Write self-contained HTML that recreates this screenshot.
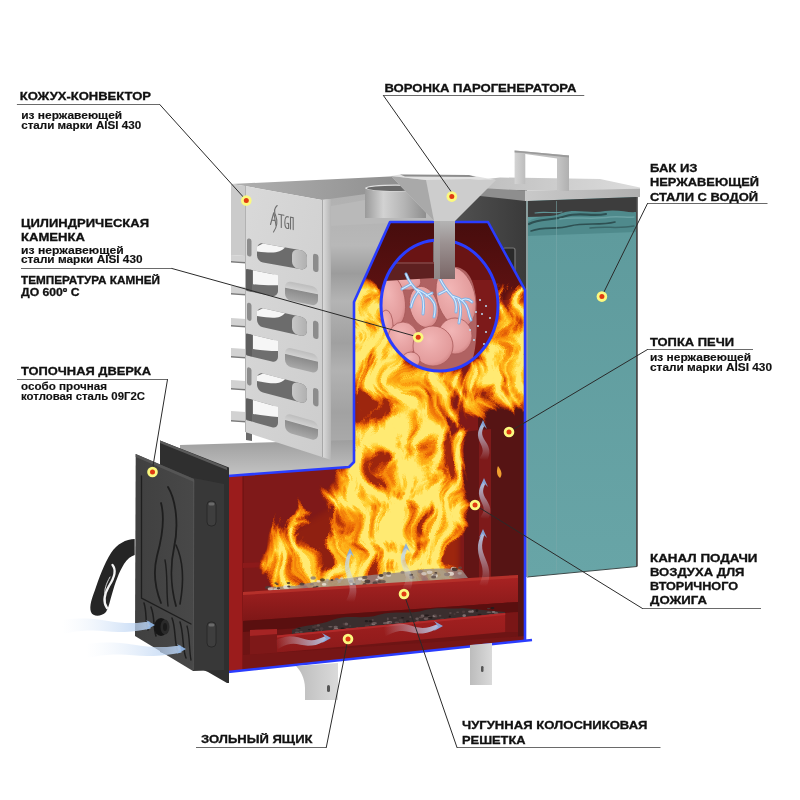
<!DOCTYPE html>
<html><head><meta charset="utf-8"><style>
html,body{margin:0;padding:0;background:#fff;}
body{position:relative;width:800px;height:800px;overflow:hidden;}
svg{display:block;position:absolute;left:0;top:0;}
#ov{will-change:transform;}
.t{font-family:"Liberation Sans",sans-serif;font-weight:bold;font-size:11px;fill:#111;stroke:#111;stroke-width:0.3px;}
.s{font-family:"Liberation Sans",sans-serif;font-weight:bold;font-size:11px;fill:#111;stroke:#111;stroke-width:0.15px;}
</style></head><body>
<svg width="800" height="800" viewBox="0 0 800 800">
<defs>
<linearGradient id="gTeal" x1="0" y1="0" x2="0" y2="1"><stop offset="0" stop-color="#5e9a9c"/><stop offset="1" stop-color="#68a5a7"/></linearGradient>
<linearGradient id="gBackTop" x1="0" y1="0" x2="1" y2="0"><stop offset="0" stop-color="#b0b0b0"/><stop offset="1" stop-color="#8f8f8f"/></linearGradient>
<linearGradient id="gBodySide" x1="0" y1="0" x2="0" y2="1"><stop offset="0" stop-color="#b0b0b0"/><stop offset="0.2" stop-color="#b8b8b8"/><stop offset="0.3" stop-color="#9c9c9c"/><stop offset="0.4" stop-color="#b4b4b4"/><stop offset="0.55" stop-color="#a0a0a0"/><stop offset="0.65" stop-color="#b2b2b2"/><stop offset="0.8" stop-color="#a2a2a2"/><stop offset="1" stop-color="#b0b0b0"/></linearGradient>
<linearGradient id="gDark" x1="0" y1="0" x2="1" y2="0"><stop offset="0" stop-color="#555"/><stop offset="1" stop-color="#3a3a3a"/></linearGradient>
<linearGradient id="gPlate" x1="0" y1="0" x2="0" y2="1"><stop offset="0" stop-color="#9e9e9e"/><stop offset="1" stop-color="#c4c4c4"/></linearGradient>
<linearGradient id="gLid" x1="0" y1="0" x2="1" y2="0"><stop offset="0" stop-color="#bdbdbd"/><stop offset="1" stop-color="#dcdcdc"/></linearGradient>
<linearGradient id="gLidFront" x1="0" y1="0" x2="1" y2="0"><stop offset="0" stop-color="#c9c9c9"/><stop offset="1" stop-color="#b0b0b0"/></linearGradient>
<linearGradient id="gHandle" x1="0" y1="0" x2="1" y2="0"><stop offset="0" stop-color="#d4d4d4"/><stop offset="0.2" stop-color="#bcbcbc"/><stop offset="0.8" stop-color="#c4c4c4"/><stop offset="1" stop-color="#b0b0b0"/></linearGradient>
<linearGradient id="gConvFront" x1="0" y1="0" x2="1" y2="1"><stop offset="0" stop-color="#d9d9d9"/><stop offset="1" stop-color="#cdcdcd"/></linearGradient>
<linearGradient id="gEdge" x1="0" y1="0" x2="1" y2="0"><stop offset="0" stop-color="#dedede"/><stop offset="1" stop-color="#b5b5b5"/></linearGradient>
<linearGradient id="gHole" x1="0" y1="0" x2="1" y2="0"><stop offset="0" stop-color="#f4f4f4"/><stop offset="0.45" stop-color="#e0e0e0"/><stop offset="0.5" stop-color="#6a6a6a"/><stop offset="1" stop-color="#8a8a8a"/></linearGradient>
<linearGradient id="gHoleR" x1="0" y1="0" x2="1" y2="0"><stop offset="0" stop-color="#c8c8c8"/><stop offset="1" stop-color="#b0b0b0"/></linearGradient>
<linearGradient id="gHole2" x1="0" y1="0" x2="0" y2="1"><stop offset="0" stop-color="#bdbdbd"/><stop offset="0.35" stop-color="#d0d0d0"/><stop offset="0.4" stop-color="#8c8c8c"/><stop offset="1" stop-color="#a8a8a8"/></linearGradient>
<linearGradient id="gCyl" x1="0" y1="0" x2="1" y2="0"><stop offset="0" stop-color="#9a9a9a"/><stop offset="0.3" stop-color="#d2d2d2"/><stop offset="0.65" stop-color="#b4b4b4"/><stop offset="1" stop-color="#8e8e8e"/></linearGradient>
<linearGradient id="gHead" x1="0" y1="0" x2="0" y2="1"><stop offset="0" stop-color="#470d0d"/><stop offset="1" stop-color="#601212"/></linearGradient>
<linearGradient id="gFunnel" x1="0" y1="0" x2="1" y2="0"><stop offset="0" stop-color="#c2c2c2"/><stop offset="0.5" stop-color="#d0d0d0"/><stop offset="1" stop-color="#b8b8b8"/></linearGradient>
<linearGradient id="gStem" x1="0" y1="0" x2="0" y2="1"><stop offset="0" stop-color="#b4b4b4"/><stop offset="0.4" stop-color="#9a9090"/><stop offset="1" stop-color="#7a6666"/></linearGradient>
<linearGradient id="gDoor" x1="0" y1="0" x2="1" y2="0"><stop offset="0" stop-color="#404040"/><stop offset="1" stop-color="#484848"/></linearGradient>
<linearGradient id="gTray" x1="0" y1="0" x2="0" y2="1"><stop offset="0" stop-color="#a82222"/><stop offset="1" stop-color="#7e1717"/></linearGradient>
<linearGradient id="gDrawer" x1="0" y1="0" x2="0" y2="1"><stop offset="0" stop-color="#a32020"/><stop offset="1" stop-color="#8c1a1a"/></linearGradient>
<linearGradient id="gLeg" x1="0" y1="0" x2="1" y2="0"><stop offset="0" stop-color="#bcbcbc"/><stop offset="1" stop-color="#dadada"/></linearGradient>
<radialGradient id="gStone" cx="0.4" cy="0.35" r="0.75"><stop offset="0" stop-color="#f2b6b6"/><stop offset="0.75" stop-color="#e39c9c"/><stop offset="1" stop-color="#c97a7a"/></radialGradient>
<linearGradient id="gStemIn" x1="0" y1="0" x2="1" y2="0"><stop offset="0" stop-color="#7a6a6a"/><stop offset="0.5" stop-color="#9a8a8a"/><stop offset="1" stop-color="#6a5656"/></linearGradient>
<radialGradient id="fireGlow" gradientUnits="userSpaceOnUse" cx="400" cy="480" r="150"><stop offset="0" stop-color="#ffcc40" stop-opacity="0.5"/><stop offset="1" stop-color="#ff8000" stop-opacity="0"/></radialGradient>
<clipPath id="redClip"><polygon points="228,476 349,467 354,462 354,302 390,222 488,222 525,290 525,641 228,672"/></clipPath>
<clipPath id="ellClip"><ellipse cx="439.5" cy="305.5" rx="58.5" ry="65.5"/></clipPath>
<filter id="fireTex" x="200" y="220" width="360" height="420" filterUnits="userSpaceOnUse" color-interpolation-filters="sRGB">
 <feTurbulence type="turbulence" baseFrequency="0.042 0.016" numOctaves="4" seed="8" result="t"/>
 <feTurbulence type="fractalNoise" baseFrequency="0.015 0.02" numOctaves="2" seed="3" result="d"/>
 <feDisplacementMap in="t" in2="d" scale="60" xChannelSelector="R" yChannelSelector="G" result="td"/>
 <feColorMatrix in="td" type="matrix" values="-1.75 0 0 0 1  -1.75 0 0 0 1  -1.75 0 0 0 1  0 0 0 0 1" result="tex"/>
 <feComposite in="SourceGraphic" in2="tex" operator="arithmetic" k1="0.5" k2="0.95" k3="0.8" k4="-0.8" result="c"/>
 <feColorMatrix in="c" type="matrix" values="1 0 0 0 0  1 0 0 0 0  1 0 0 0 0  1 0 0 0 0" result="c2"/>
 <feComponentTransfer in="c2">
  <feFuncR type="table" tableValues="0.5 0.78 0.93 0.99 1 1"/>
  <feFuncG type="table" tableValues="0.09 0.23 0.42 0.62 0.79 0.92"/>
  <feFuncB type="table" tableValues="0.03 0.02 0.03 0.06 0.16 0.45"/>
  <feFuncA type="table" tableValues="0 0.75 1 1 1 1"/>
 </feComponentTransfer>
</filter>
<filter id="mblur" x="200" y="220" width="360" height="420" filterUnits="userSpaceOnUse"><feGaussianBlur stdDeviation="6"/></filter>
<filter id="soft" x="0" y="0" width="800" height="800" filterUnits="userSpaceOnUse"><feGaussianBlur stdDeviation="1.5"/></filter>
<mask id="flameMask" maskUnits="userSpaceOnUse" x="200" y="220" width="360" height="420">
 <g filter="url(#mblur)" fill="#fff">
  <polygon points="358,300 366,284 380,290 392,340 420,372 462,372 490,340 500,290 510,284 523,292 523,408 500,410 470,418 466,440 466,590 330,595 340,470 354,466"/>
  <polygon points="262,596 262,560 272,525 292,505 315,490 345,475 360,480 360,596" fill="#ccc"/>
 </g>
 <polygon points="440,395 470,392 475,420 466,440 440,430" fill="#000" opacity="0.45" filter="url(#mblur)"/>
</mask>
<linearGradient id="ag1" gradientUnits="userSpaceOnUse" x1="350.0" y1="602.0" x2="350.0" y2="553.0"><stop offset="0" stop-color="#e4eefa" stop-opacity="0.0"/><stop offset="1" stop-color="#b4cff2" stop-opacity="0.9"/></linearGradient>
<linearGradient id="ag2" gradientUnits="userSpaceOnUse" x1="406.0" y1="590.0" x2="406.0" y2="548.0"><stop offset="0" stop-color="#e4eefa" stop-opacity="0.0"/><stop offset="1" stop-color="#b4cff2" stop-opacity="0.9"/></linearGradient>
<linearGradient id="ag3" gradientUnits="userSpaceOnUse" x1="483.0" y1="586.0" x2="483.0" y2="534.0"><stop offset="0" stop-color="#e4eefa" stop-opacity="0.0"/><stop offset="1" stop-color="#b4cff2" stop-opacity="0.9"/></linearGradient>
<linearGradient id="ag4" gradientUnits="userSpaceOnUse" x1="484.0" y1="519.0" x2="484.0" y2="483.0"><stop offset="0" stop-color="#e4eefa" stop-opacity="0.0"/><stop offset="1" stop-color="#b4cff2" stop-opacity="0.9"/></linearGradient>
<linearGradient id="ag5" gradientUnits="userSpaceOnUse" x1="483.0" y1="460.0" x2="483.0" y2="425.0"><stop offset="0" stop-color="#e4eefa" stop-opacity="0.0"/><stop offset="1" stop-color="#b4cff2" stop-opacity="0.9"/></linearGradient>
<linearGradient id="ag6" gradientUnits="userSpaceOnUse" x1="276.0" y1="645.0" x2="326.0" y2="638.0"><stop offset="0" stop-color="#e4eefa" stop-opacity="0.0"/><stop offset="1" stop-color="#b4cff2" stop-opacity="0.9"/></linearGradient>
<linearGradient id="ag7" gradientUnits="userSpaceOnUse" x1="384.0" y1="632.0" x2="438.0" y2="626.0"><stop offset="0" stop-color="#e4eefa" stop-opacity="0.0"/><stop offset="1" stop-color="#b4cff2" stop-opacity="0.9"/></linearGradient>
<linearGradient id="ag8" gradientUnits="userSpaceOnUse" x1="62.0" y1="627.0" x2="150.0" y2="625.0"><stop offset="0" stop-color="#e4eefa" stop-opacity="0.0"/><stop offset="1" stop-color="#b4cff2" stop-opacity="0.9"/></linearGradient>
<linearGradient id="ag9" gradientUnits="userSpaceOnUse" x1="86.0" y1="651.0" x2="181.0" y2="649.0"><stop offset="0" stop-color="#e4eefa" stop-opacity="0.0"/><stop offset="1" stop-color="#b4cff2" stop-opacity="0.9"/></linearGradient></defs>
<rect width="800" height="800" fill="#fff"/>
<polygon points="231.0,184.0 400.0,176.0 400.0,200.0 331.0,199.0 322.0,200.0 245.0,186.0" fill="url(#gBackTop)" />
<polygon points="322.0,200.0 395.0,190.0 400.0,224.0 390.0,222.0 354.0,302.0 354.0,466.0 331.0,468.0 322.0,459.0" fill="url(#gBodySide)" />
<polygon points="331.0,206.0 365.0,200.0 445.0,196.0 445.0,223.0 390.0,223.0 331.0,226.0" fill="#b9b9b9" />
<polygon points="440.0,186.0 527.0,190.0 527.0,300.0 440.0,300.0" fill="url(#gDark)" />
<rect x="503" y="248" width="12" height="30" fill="#2a2a2a" stroke="#777" stroke-width="1.2" rx="2"/>
<polygon points="180.0,445.0 353.0,440.0 353.0,464.0 348.0,467.0 228.0,476.0 180.0,476.0" fill="url(#gPlate)" />
<polygon points="470.0,181.0 500.0,177.5 600.0,179.0 640.0,187.5 640.0,189.0 525.0,190.6 470.0,189.0" fill="url(#gLid)" />
<polygon points="525.0,190.6 640.0,188.7 640.0,197.0 525.0,201.0" fill="url(#gLidFront)" />
<polygon points="480.0,188.0 525.0,190.6 525.0,201.0 480.0,196.0" fill="#8e8e8e" />
<path d="M514.6,184 L514.6,150.5 L569,155.5 L569,191 L557,191 L557,158.5 L525.3,154 L525.3,184 Z" fill="url(#gHandle)"/>
<path d="M514.6,150.5 L569,155.5 L569,157.5 L525.3,153 L514.6,152.5 Z" fill="#9a9a9a"/>
<polygon points="527.0,201.0 636.0,197.0 636.0,566.5 527.0,577.0" fill="url(#gTeal)" />
<line x1="527" y1="577" x2="637" y2="566.5" stroke="#3e4a4a" stroke-width="1"/>
<polygon points="527.0,201.0 636.0,197.0 636.0,214.0 527.0,217.0" fill="#3d3d3d" />
<path d="M527,222 C540,214 552,218 562,213 C575,208 590,214 605,211 C618,209 628,213 636,212 L636,232 L527,236 Z" fill="#4f8a8c"/>
<g fill="none" stroke-linecap="round"><path d="M529,224 C540,218 552,221 566,216 C580,212 592,217 606,214" stroke="#2e5052" stroke-width="2.2"/><path d="M531,231 C545,226 556,230 570,226 C585,222 600,226 615,222" stroke="#2e5052" stroke-width="1.6"/><path d="M560,219 C575,216 590,220 610,217 C620,216 628,218 634,217" stroke="#6aa2a4" stroke-width="1.5"/><path d="M590,228 C605,226 620,229 634,226" stroke="#3a6668" stroke-width="1.5"/><path d="M535,213 C545,211 555,214 562,212" stroke="#5e9496" stroke-width="1.2"/></g>
<polygon points="636.0,197.0 637.8,197.0 637.8,566.5 636.0,566.5" fill="#4a4a4a" />
<line x1="556.5" y1="201" x2="556.5" y2="572" stroke="#7aa8aa" stroke-width="0.8" opacity="0.7"/>
<polygon points="526.0,201.0 528.0,201.0 528.0,577.0 526.0,577.0" fill="#8a9e9e" />
<polygon points="231.0,184.0 245.0,186.0 245.0,256.0 231.0,255.0" fill="#cbcbcb" />
<polygon points="231.0,255.0 246.0,256.0 246.0,262.0 231.0,261.0" fill="#d2d2d2" />
<polygon points="231.0,261.0 246.0,262.0 246.0,263.5 231.0,262.5" fill="#7a7a7a" />
<polygon points="231.0,286.0 246.0,287.0 246.0,294.0 231.0,293.0" fill="#d2d2d2" />
<polygon points="231.0,293.0 246.0,294.0 246.0,295.5 231.0,294.5" fill="#7a7a7a" />
<polygon points="231.0,318.0 246.0,319.0 246.0,326.0 231.0,325.0" fill="#d2d2d2" />
<polygon points="231.0,325.0 246.0,326.0 246.0,327.5 231.0,326.5" fill="#7a7a7a" />
<polygon points="231.0,348.0 246.0,349.0 246.0,357.0 231.0,356.0" fill="#d2d2d2" />
<polygon points="231.0,356.0 246.0,357.0 246.0,358.5 231.0,357.5" fill="#7a7a7a" />
<polygon points="231.0,380.0 246.0,381.0 246.0,389.0 231.0,388.0" fill="#d2d2d2" />
<polygon points="231.0,388.0 246.0,389.0 246.0,390.5 231.0,389.5" fill="#7a7a7a" />
<polygon points="231.0,411.0 246.0,412.0 246.0,421.0 231.0,420.0" fill="#d2d2d2" />
<polygon points="231.0,420.0 246.0,421.0 246.0,422.5 231.0,421.5" fill="#7a7a7a" />
<polygon points="246.0,256.0 252.0,257.0 252.0,441.0 246.0,440.0" fill="#6a6a6a" />
<polygon points="245.0,186.0 322.0,200.0 322.0,457.0 245.0,432.0" fill="url(#gConvFront)" />
<line x1="245.5" y1="186" x2="245.5" y2="432" stroke="#a8a8a8" stroke-width="0.8"/>
<polygon points="322.0,200.0 331.0,199.0 331.0,460.0 322.0,457.0" fill="url(#gEdge)" />
<line x1="322.5" y1="200" x2="322.5" y2="457" stroke="#9a9a9a" stroke-width="0.8"/>
<g transform="matrix(1,0.180,0,1,0,-46.26)"><rect x="247.0" y="239.9" width="4.5" height="18.0" rx="2.2" fill="#8c8c8c" /><rect x="257.0" y="242.4" width="50.0" height="19.0" rx="6.0" fill="#6c6c6c" /><path d="M263,242.4 L285,242.4 C280,248.4 275,250.4 257,251.4 L257,246.4 Z" fill="#f6f6f6"/><rect x="292.0" y="242.4" width="15.0" height="19.0" rx="6.0" fill="url(#gHoleR)" /><rect x="313.0" y="243.4" width="5.5" height="18.0" rx="2.5" fill="#8c8c8c" /></g>
<g transform="matrix(1,0.200,0,1,0,-51.40)"><rect x="246.0" y="271.0" width="32.0" height="22.0" rx="6.0" fill="#6e6e6e" /><path d="M253,271.0 L278,271.0 L278,281.0 C270,283.0 262,284.0 253,285.0 Z" fill="#f6f6f6"/><rect x="246.0" y="271.0" width="6.0" height="22.0" rx="1.0" fill="#5e5e5e" /><rect x="285.0" y="275.0" width="33.0" height="19.0" rx="6.0" fill="url(#gHole2)" /></g>
<g transform="matrix(1,0.220,0,1,0,-56.54)"><rect x="247.0" y="304.5" width="4.5" height="18.0" rx="2.2" fill="#8c8c8c" /><rect x="257.0" y="307.0" width="50.0" height="19.0" rx="6.0" fill="#6c6c6c" /><path d="M263,307.0 L285,307.0 C280,313.0 275,315.0 257,316.0 L257,311.0 Z" fill="#f6f6f6"/><rect x="292.0" y="307.0" width="15.0" height="19.0" rx="6.0" fill="url(#gHoleR)" /><rect x="313.0" y="308.0" width="5.5" height="18.0" rx="2.5" fill="#8c8c8c" /></g>
<g transform="matrix(1,0.240,0,1,0,-61.68)"><rect x="246.0" y="336.0" width="32.0" height="22.0" rx="6.0" fill="#6e6e6e" /><path d="M253,336.0 L278,336.0 L278,346.0 C270,348.0 262,349.0 253,350.0 Z" fill="#f6f6f6"/><rect x="246.0" y="336.0" width="6.0" height="22.0" rx="1.0" fill="#5e5e5e" /><rect x="285.0" y="340.0" width="33.0" height="19.0" rx="6.0" fill="url(#gHole2)" /></g>
<g transform="matrix(1,0.260,0,1,0,-66.82)"><rect x="247.0" y="369.5" width="4.5" height="18.0" rx="2.2" fill="#8c8c8c" /><rect x="257.0" y="372.0" width="50.0" height="19.0" rx="6.0" fill="#6c6c6c" /><path d="M263,372.0 L285,372.0 C280,378.0 275,380.0 257,381.0 L257,376.0 Z" fill="#f6f6f6"/><rect x="292.0" y="372.0" width="15.0" height="19.0" rx="6.0" fill="url(#gHoleR)" /><rect x="313.0" y="373.0" width="5.5" height="18.0" rx="2.5" fill="#8c8c8c" /></g>
<g transform="matrix(1,0.280,0,1,0,-71.96)"><rect x="246.0" y="401.0" width="32.0" height="22.0" rx="6.0" fill="#6e6e6e" /><path d="M253,401.0 L278,401.0 L278,411.0 C270,413.0 262,414.0 253,415.0 Z" fill="#f6f6f6"/><rect x="246.0" y="401.0" width="6.0" height="22.0" rx="1.0" fill="#5e5e5e" /><rect x="285.0" y="405.0" width="33.0" height="19.0" rx="6.0" fill="url(#gHole2)" /></g>
<g fill="none" stroke="#6e6e6e" stroke-width="1.1" stroke-linecap="round"><path d="M270.5,224.5 L273.8,212.5 L276,225.5 M271.8,220 L275.3,220.6"/><path d="M277.2,205.5 C274.2,208 274,212 275.8,216 C277.5,220.5 277.6,226 273.5,232"/><path d="M278.5,214.2 L284,215.2 M281.3,214.8 L281.3,227.5"/><path d="M288.5,217 C286.2,215.6 284.8,218 284.8,222.5 C284.8,227 286.2,229 288.6,228.4 L288.6,223.5 L287,223.3"/><path d="M290.5,229 L290.5,217.2 L293.2,217.7 L293.2,229.6"/></g>
<rect x="365" y="188" width="61" height="30" fill="url(#gCyl)"/><ellipse cx="395.5" cy="188" rx="30.5" ry="3.5" fill="#e0e0e0"/><ellipse cx="395.5" cy="188.3" rx="28.5" ry="2.6" fill="#6a6a6a"/>
<polygon points="228.0,476.0 349.0,467.0 354.0,462.0 354.0,302.0 390.0,222.0 488.0,222.0 525.0,290.0 525.0,641.0 228.0,672.0" fill="#7f1919" />
<polygon points="390.0,222.0 488.0,222.0 525.0,290.0 525.0,300.0 354.0,300.0 354.0,302.0" fill="url(#gHead)" />
<polygon points="478.0,395.0 525.0,395.0 525.0,641.0 478.0,645.0" fill="#561414" />
<polygon points="464.0,432.0 479.0,430.0 479.0,580.0 464.0,582.0" fill="#621515" />
<polygon points="479.0,430.0 491.0,429.0 491.0,578.0 479.0,580.0" fill="#7e1a1a" />
<path d="M498,466 C501,470 503,474 500,478 C497,476 496,471 498,466Z" fill="#f0a030"/>
<polygon points="228.0,476.0 243.0,475.0 243.0,670.0 228.0,672.0" fill="#9b1c1c" />
<line x1="243" y1="475" x2="243" y2="670" stroke="#6a1010" stroke-width="1"/>
<polygon points="243.0,563.0 300.0,561.0 300.0,566.0 243.0,568.0" fill="#8c1a1a" />
<g clip-path="url(#redClip)"><g filter="url(#fireTex)"><rect x="200" y="220" width="360" height="420" fill="#000"/><g filter="url(#mblur)"><polygon points="345,290 366,278 380,288 392,340 420,372 462,372 490,340 500,288 510,280 540,288 540,406 500,410 474,416 468,440 468,596 338,598 340,470 345,466" fill="#fff"/><polygon points="445,395 478,390 480,425 468,440 445,430" fill="#bbb"/><ellipse cx="425" cy="380" rx="40" ry="14" fill="#fff"/><polygon points="262,598 262,565 272,540 292,522 318,508 345,490 352,598" fill="#f4f4f4"/><polygon points="266,530 290,505 320,490 340,474 345,490 318,508 292,522 272,540" fill="#888"/></g></g></g>
<path d="M262,597 C268,588 280,585 295,586 C310,582 330,580 350,578 C372,574 392,574 410,571 C430,568 448,568 462,570 L468,578 L262,599 Z" fill="#9a8a88" opacity="0.8"/>
<g opacity="0.8"><ellipse cx="311.9" cy="584.3" rx="2.0" ry="1.2" fill="#8a7a78"/><ellipse cx="358.4" cy="579.8" rx="2.4" ry="1.5" fill="#3a2e2c"/><ellipse cx="357.4" cy="579.6" rx="1.6" ry="1.0" fill="#b0a4a0"/><ellipse cx="357.6" cy="583.0" rx="2.2" ry="1.4" fill="#b0a4a0"/><ellipse cx="434.6" cy="575.7" rx="3.1" ry="1.9" fill="#ece6dc"/><ellipse cx="411.0" cy="575.4" rx="1.4" ry="0.9" fill="#3a2e2c"/><ellipse cx="453.6" cy="568.6" rx="2.9" ry="1.8" fill="#d8d0c8"/><ellipse cx="358.1" cy="581.5" rx="3.0" ry="1.9" fill="#b0a4a0"/><ellipse cx="420.3" cy="571.5" rx="2.7" ry="1.7" fill="#8a7a78"/><ellipse cx="352.6" cy="584.7" rx="3.0" ry="1.9" fill="#4a3c3a"/><ellipse cx="272.1" cy="587.9" rx="1.8" ry="1.1" fill="#b0a4a0"/><ellipse cx="350.9" cy="581.2" rx="1.9" ry="1.2" fill="#8a7a78"/><ellipse cx="429.2" cy="572.3" rx="2.3" ry="1.4" fill="#ece6dc"/><ellipse cx="380.1" cy="581.5" rx="2.6" ry="1.6" fill="#4a3c3a"/><ellipse cx="433.7" cy="576.9" rx="2.6" ry="1.6" fill="#5a4a48"/><ellipse cx="402.6" cy="572.2" rx="2.3" ry="1.5" fill="#8a7a78"/><ellipse cx="377.1" cy="579.5" rx="1.7" ry="1.1" fill="#3a2e2c"/><ellipse cx="459.7" cy="573.3" rx="2.2" ry="1.4" fill="#b0a4a0"/><ellipse cx="460.0" cy="567.8" rx="2.1" ry="1.3" fill="#5a4a48"/><ellipse cx="269.0" cy="587.4" rx="2.1" ry="1.3" fill="#4a3c3a"/><ellipse cx="273.7" cy="589.1" rx="1.4" ry="0.9" fill="#b0a4a0"/><ellipse cx="380.5" cy="577.2" rx="3.1" ry="1.9" fill="#d8d0c8"/><ellipse cx="364.6" cy="584.2" rx="1.9" ry="1.2" fill="#4a3c3a"/><ellipse cx="286.3" cy="586.9" rx="3.1" ry="1.9" fill="#ece6dc"/><ellipse cx="322.4" cy="579.8" rx="2.6" ry="1.6" fill="#3a2e2c"/><ellipse cx="331.9" cy="580.0" rx="1.5" ry="1.0" fill="#3a2e2c"/><ellipse cx="339.4" cy="580.4" rx="2.3" ry="1.4" fill="#b0a4a0"/><ellipse cx="435.8" cy="572.9" rx="1.5" ry="0.9" fill="#3a2e2c"/><ellipse cx="364.9" cy="577.4" rx="2.7" ry="1.7" fill="#5a4a48"/><ellipse cx="449.5" cy="573.2" rx="1.9" ry="1.2" fill="#d8d0c8"/><ellipse cx="267.3" cy="587.4" rx="2.4" ry="1.5" fill="#4a3c3a"/><ellipse cx="339.2" cy="582.0" rx="1.5" ry="1.0" fill="#b0a4a0"/><ellipse cx="388.6" cy="575.3" rx="2.6" ry="1.6" fill="#d8d0c8"/><ellipse cx="384.9" cy="573.4" rx="2.2" ry="1.4" fill="#8a7a78"/><ellipse cx="276.9" cy="589.5" rx="3.1" ry="2.0" fill="#d8d0c8"/><ellipse cx="388.7" cy="573.3" rx="2.4" ry="1.5" fill="#5a4a48"/><ellipse cx="336.7" cy="578.9" rx="2.0" ry="1.2" fill="#8a7a78"/><ellipse cx="317.0" cy="586.7" rx="1.5" ry="0.9" fill="#3a2e2c"/><ellipse cx="270.3" cy="589.0" rx="2.7" ry="1.7" fill="#d8d0c8"/><ellipse cx="363.5" cy="580.2" rx="1.8" ry="1.1" fill="#d8d0c8"/><ellipse cx="301.9" cy="584.0" rx="2.6" ry="1.6" fill="#4a3c3a"/><ellipse cx="383.3" cy="581.6" rx="2.6" ry="1.6" fill="#5a4a48"/><ellipse cx="351.4" cy="583.9" rx="1.6" ry="1.0" fill="#d8d0c8"/><ellipse cx="411.2" cy="574.8" rx="1.8" ry="1.1" fill="#3a2e2c"/><ellipse cx="288.8" cy="586.5" rx="1.6" ry="1.0" fill="#3a2e2c"/><ellipse cx="429.7" cy="572.3" rx="2.9" ry="1.8" fill="#d8d0c8"/><ellipse cx="424.0" cy="573.7" rx="2.8" ry="1.8" fill="#d8d0c8"/><ellipse cx="381.1" cy="575.5" rx="2.3" ry="1.4" fill="#3a2e2c"/><ellipse cx="318.4" cy="581.2" rx="2.1" ry="1.3" fill="#ece6dc"/><ellipse cx="377.0" cy="579.6" rx="1.7" ry="1.0" fill="#ece6dc"/><ellipse cx="450.8" cy="573.7" rx="3.2" ry="2.0" fill="#ece6dc"/><ellipse cx="375.1" cy="583.0" rx="2.7" ry="1.7" fill="#4a3c3a"/><ellipse cx="411.9" cy="577.3" rx="2.6" ry="1.6" fill="#8a7a78"/><ellipse cx="454.8" cy="569.3" rx="3.0" ry="1.9" fill="#3a2e2c"/><ellipse cx="278.4" cy="588.3" rx="1.8" ry="1.1" fill="#3a2e2c"/><ellipse cx="313.2" cy="578.0" rx="2.8" ry="1.8" fill="#8a7a78"/><ellipse cx="447.0" cy="574.3" rx="3.0" ry="1.9" fill="#8a7a78"/><ellipse cx="274.7" cy="587.4" rx="1.5" ry="0.9" fill="#8a7a78"/><ellipse cx="324.1" cy="584.4" rx="2.3" ry="1.4" fill="#ece6dc"/><ellipse cx="275.5" cy="592.5" rx="1.5" ry="0.9" fill="#5a4a48"/><ellipse cx="314.7" cy="587.8" rx="2.2" ry="1.4" fill="#3a2e2c"/><ellipse cx="277.1" cy="584.1" rx="1.5" ry="0.9" fill="#3a2e2c"/><ellipse cx="288.5" cy="583.1" rx="1.8" ry="1.1" fill="#3a2e2c"/><ellipse cx="290.3" cy="591.1" rx="2.2" ry="1.4" fill="#8a7a78"/><ellipse cx="434.9" cy="574.7" rx="1.8" ry="1.1" fill="#8a7a78"/><ellipse cx="367.4" cy="581.4" rx="2.9" ry="1.8" fill="#3a2e2c"/><ellipse cx="275.8" cy="583.1" rx="1.5" ry="0.9" fill="#4a3c3a"/><ellipse cx="360.1" cy="579.0" rx="2.3" ry="1.4" fill="#ece6dc"/><ellipse cx="327.2" cy="579.9" rx="2.0" ry="1.2" fill="#b0a4a0"/><ellipse cx="341.8" cy="578.3" rx="1.8" ry="1.1" fill="#d8d0c8"/></g>
<path d="M262,598 C280,592 300,594 320,590 C340,586 350,590 370,584 L372,590 L262,600Z" fill="#ffb020" opacity="0.7"/>
<polygon points="243.0,594.0 518.0,577.0 518.0,602.0 243.0,621.0" fill="url(#gTray)" />
<polygon points="243.0,592.0 518.0,575.0 518.0,578.0 243.0,595.0" fill="#b5302a" />
<polygon points="243.0,621.0 518.0,602.0 518.0,641.0 243.0,670.0" fill="#6e1414" />
<polygon points="243.0,621.0 518.0,602.0 518.0,612.0 243.0,632.0" fill="#5a0f0f" />
<path d="M292,630 C305,624 318,626 332,620 C348,614 362,620 378,615 C395,610 410,615 425,610 C440,606 452,610 462,608 L505,612 L505,620 L292,636Z" fill="#3a2e2e"/>
<g><ellipse cx="387.7" cy="622.9" rx="2.4" ry="1.1" fill="#807070"/><ellipse cx="470.3" cy="611.7" rx="2.2" ry="1.1" fill="#807070"/><ellipse cx="457.6" cy="612.2" rx="1.5" ry="0.8" fill="#5a4a4a"/><ellipse cx="417.1" cy="618.7" rx="1.7" ry="1.3" fill="#6a5a5a"/><ellipse cx="422.7" cy="621.6" rx="1.1" ry="0.7" fill="#6a5a5a"/><ellipse cx="417.9" cy="621.6" rx="1.5" ry="1.2" fill="#6a5a5a"/><ellipse cx="401.4" cy="622.2" rx="1.7" ry="1.2" fill="#4a3a3a"/><ellipse cx="429.2" cy="617.5" rx="1.8" ry="1.4" fill="#5a4a4a"/><ellipse cx="440.1" cy="615.7" rx="1.3" ry="0.9" fill="#5a4a4a"/><ellipse cx="410.4" cy="617.0" rx="1.2" ry="0.9" fill="#5a4a4a"/><ellipse cx="491.4" cy="614.8" rx="1.0" ry="0.9" fill="#5a4a4a"/><ellipse cx="391.3" cy="625.9" rx="1.6" ry="0.8" fill="#6a5a5a"/><ellipse cx="454.6" cy="613.9" rx="1.1" ry="1.0" fill="#4a3a3a"/><ellipse cx="450.4" cy="613.1" rx="1.4" ry="0.8" fill="#5a4a4a"/><ellipse cx="390.3" cy="622.1" rx="2.0" ry="0.9" fill="#807070"/><ellipse cx="334.1" cy="629.6" rx="1.2" ry="1.2" fill="#5a4a4a"/><ellipse cx="375.9" cy="627.5" rx="1.0" ry="1.4" fill="#807070"/><ellipse cx="357.3" cy="628.5" rx="1.3" ry="1.0" fill="#807070"/><ellipse cx="426.6" cy="615.3" rx="2.5" ry="0.9" fill="#241c1c"/><ellipse cx="297.0" cy="632.4" rx="2.2" ry="1.0" fill="#5a4a4a"/><ellipse cx="313.5" cy="630.5" rx="1.4" ry="1.2" fill="#241c1c"/><ellipse cx="422.5" cy="616.0" rx="1.9" ry="1.4" fill="#6a5a5a"/><ellipse cx="472.6" cy="611.4" rx="1.2" ry="1.4" fill="#807070"/><ellipse cx="346.1" cy="624.1" rx="2.1" ry="1.5" fill="#6a5a5a"/><ellipse cx="435.8" cy="616.7" rx="1.7" ry="0.8" fill="#5a4a4a"/><ellipse cx="316.3" cy="625.9" rx="2.4" ry="0.9" fill="#4a3a3a"/><ellipse cx="347.7" cy="629.0" rx="1.9" ry="0.9" fill="#6a5a5a"/><ellipse cx="485.5" cy="616.5" rx="1.2" ry="1.1" fill="#807070"/><ellipse cx="420.9" cy="617.3" rx="2.4" ry="0.9" fill="#5a4a4a"/><ellipse cx="309.2" cy="629.6" rx="1.4" ry="0.7" fill="#241c1c"/><ellipse cx="370.6" cy="624.7" rx="1.2" ry="1.0" fill="#4a3a3a"/><ellipse cx="496.0" cy="612.9" rx="2.0" ry="1.2" fill="#6a5a5a"/><ellipse cx="415.9" cy="623.0" rx="1.7" ry="1.0" fill="#241c1c"/><ellipse cx="492.4" cy="608.1" rx="2.0" ry="1.1" fill="#241c1c"/><ellipse cx="360.4" cy="629.2" rx="1.1" ry="1.1" fill="#5a4a4a"/><ellipse cx="479.5" cy="615.1" rx="2.1" ry="1.3" fill="#241c1c"/><ellipse cx="367.1" cy="626.0" rx="2.4" ry="1.4" fill="#4a3a3a"/><ellipse cx="488.6" cy="608.6" rx="1.7" ry="0.7" fill="#4a3a3a"/><ellipse cx="372.7" cy="620.0" rx="1.1" ry="0.8" fill="#5a4a4a"/><ellipse cx="498.6" cy="614.4" rx="2.1" ry="1.0" fill="#807070"/><ellipse cx="388.8" cy="622.0" rx="1.8" ry="1.1" fill="#807070"/><ellipse cx="301.1" cy="631.9" rx="1.7" ry="0.9" fill="#5a4a4a"/><ellipse cx="396.9" cy="622.4" rx="2.4" ry="0.9" fill="#5a4a4a"/><ellipse cx="370.4" cy="621.3" rx="1.9" ry="1.1" fill="#241c1c"/><ellipse cx="430.3" cy="617.7" rx="2.3" ry="1.0" fill="#241c1c"/><ellipse cx="335.7" cy="627.1" rx="2.2" ry="1.4" fill="#6a5a5a"/><ellipse cx="373.8" cy="624.5" rx="1.5" ry="0.8" fill="#4a3a3a"/><ellipse cx="366.9" cy="627.7" rx="1.1" ry="0.8" fill="#241c1c"/><ellipse cx="463.5" cy="611.8" rx="1.7" ry="1.4" fill="#4a3a3a"/><ellipse cx="373.4" cy="624.0" rx="2.0" ry="1.3" fill="#807070"/><ellipse cx="387.8" cy="619.0" rx="1.0" ry="1.4" fill="#5a4a4a"/><ellipse cx="434.0" cy="616.0" rx="1.5" ry="1.2" fill="#807070"/><ellipse cx="298.9" cy="628.4" rx="1.7" ry="0.7" fill="#241c1c"/><ellipse cx="343.7" cy="624.0" rx="1.1" ry="1.2" fill="#4a3a3a"/><ellipse cx="317.3" cy="629.7" rx="2.0" ry="1.0" fill="#5a4a4a"/><ellipse cx="435.3" cy="615.3" rx="1.7" ry="0.8" fill="#5a4a4a"/><ellipse cx="449.8" cy="616.5" rx="1.1" ry="0.9" fill="#241c1c"/><ellipse cx="405.6" cy="624.2" rx="1.8" ry="1.5" fill="#6a5a5a"/><ellipse cx="375.7" cy="626.0" rx="2.4" ry="0.8" fill="#4a3a3a"/><ellipse cx="321.6" cy="628.7" rx="1.9" ry="1.4" fill="#4a3a3a"/><ellipse cx="407.8" cy="621.6" rx="1.8" ry="1.4" fill="#241c1c"/><ellipse cx="390.1" cy="623.4" rx="1.3" ry="1.3" fill="#5a4a4a"/><ellipse cx="338.7" cy="630.5" rx="2.5" ry="1.5" fill="#807070"/><ellipse cx="495.2" cy="615.1" rx="1.4" ry="1.3" fill="#5a4a4a"/><ellipse cx="366.4" cy="621.2" rx="1.7" ry="1.1" fill="#241c1c"/><ellipse cx="394.9" cy="617.9" rx="2.2" ry="0.8" fill="#5a4a4a"/><ellipse cx="330.4" cy="626.8" rx="2.2" ry="0.8" fill="#6a5a5a"/><ellipse cx="500.0" cy="614.4" rx="1.8" ry="1.2" fill="#4a3a3a"/><ellipse cx="488.9" cy="612.3" rx="2.4" ry="0.8" fill="#6a5a5a"/><ellipse cx="385.1" cy="623.2" rx="2.2" ry="1.1" fill="#6a5a5a"/><ellipse cx="402.2" cy="623.7" rx="1.8" ry="0.9" fill="#4a3a3a"/><ellipse cx="490.7" cy="615.1" rx="1.9" ry="0.9" fill="#6a5a5a"/><ellipse cx="493.5" cy="612.0" rx="1.9" ry="0.9" fill="#807070"/><ellipse cx="318.4" cy="625.4" rx="1.6" ry="1.1" fill="#5a4a4a"/><ellipse cx="400.8" cy="620.3" rx="2.2" ry="1.2" fill="#4a3a3a"/><ellipse cx="314.1" cy="627.1" rx="2.4" ry="1.1" fill="#4a3a3a"/><ellipse cx="350.2" cy="626.0" rx="1.2" ry="1.0" fill="#4a3a3a"/><ellipse cx="402.6" cy="617.8" rx="1.6" ry="0.7" fill="#241c1c"/><ellipse cx="321.5" cy="631.3" rx="1.0" ry="0.9" fill="#6a5a5a"/><ellipse cx="297.4" cy="629.7" rx="2.1" ry="0.9" fill="#4a3a3a"/><ellipse cx="316.5" cy="631.4" rx="1.2" ry="1.1" fill="#241c1c"/><ellipse cx="442.1" cy="618.6" rx="2.3" ry="0.7" fill="#4a3a3a"/><ellipse cx="464.2" cy="615.7" rx="1.8" ry="1.4" fill="#807070"/><ellipse cx="425.9" cy="618.8" rx="2.3" ry="1.2" fill="#6a5a5a"/><ellipse cx="342.7" cy="628.9" rx="2.2" ry="1.4" fill="#241c1c"/><ellipse cx="418.6" cy="622.5" rx="1.3" ry="1.3" fill="#6a5a5a"/><ellipse cx="476.9" cy="610.6" rx="1.4" ry="1.3" fill="#241c1c"/><ellipse cx="374.5" cy="623.2" rx="2.4" ry="1.1" fill="#6a5a5a"/><ellipse cx="336.1" cy="628.6" rx="2.2" ry="0.8" fill="#807070"/><ellipse cx="434.9" cy="621.0" rx="2.5" ry="0.8" fill="#807070"/></g>
<polygon points="250.0,632.0 277.0,631.0 277.0,653.0 250.0,655.0" fill="#7e1818" />
<polygon points="250.0,630.0 277.0,629.0 277.0,634.0 250.0,636.0" fill="#a62424" />
<polygon points="277.0,635.6 505.5,613.0 505.5,632.0 277.0,652.5" fill="url(#gDrawer)" />
<polygon points="277.0,635.6 505.5,613.0 505.5,615.0 277.0,637.6" fill="#b22a2a" />
<polygon points="505.5,613.0 518.0,612.0 518.0,632.0 505.5,632.0" fill="#7a1616" />
<polygon points="243.0,655.0 525.0,636.0 525.0,641.0 243.0,670.0" fill="#761616" />
<ellipse cx="439.5" cy="305.5" rx="58.5" ry="65.5" fill="#7d1a1a"/>
<g clip-path="url(#ellClip)">
<rect x="380" y="240" width="120" height="40" fill="#6a1414"/>
<path d="M381,300 C384,282 394,272 410,271 C425,270 440,266 455,267 C470,268 475,285 476,300 C477,330 478,350 468,372 L381,372 Z" fill="#b06262"/>
<ellipse cx="405" cy="280" rx="16" ry="10" transform="rotate(10 405 280)" fill="url(#gStone)" stroke="#a85a5a" stroke-width="0.8"/>
<ellipse cx="392" cy="300" rx="13" ry="26" transform="rotate(-10 392 300)" fill="url(#gStone)" stroke="#a85a5a" stroke-width="0.8"/>
<ellipse cx="456" cy="297" rx="19" ry="31" transform="rotate(-15 456 297)" fill="url(#gStone)" stroke="#a85a5a" stroke-width="0.8"/>
<ellipse cx="424" cy="307" rx="14" ry="21" transform="rotate(-15 424 307)" fill="url(#gStone)" stroke="#a85a5a" stroke-width="0.8"/>
<ellipse cx="386" cy="326" rx="7" ry="16" transform="rotate(0 386 326)" fill="url(#gStone)" stroke="#a85a5a" stroke-width="0.8"/>
<ellipse cx="455" cy="336" rx="17" ry="18" transform="rotate(0 455 336)" fill="url(#gStone)" stroke="#a85a5a" stroke-width="0.8"/>
<ellipse cx="403" cy="339" rx="15" ry="17" transform="rotate(0 403 339)" fill="url(#gStone)" stroke="#a85a5a" stroke-width="0.8"/>
<ellipse cx="433" cy="346" rx="20" ry="20" transform="rotate(0 433 346)" fill="url(#gStone)" stroke="#a85a5a" stroke-width="0.8"/>
<ellipse cx="411" cy="360" rx="9" ry="8" transform="rotate(0 411 360)" fill="url(#gStone)" stroke="#a85a5a" stroke-width="0.8"/>
<rect x="433" y="238" width="22" height="41" fill="url(#gStemIn)"/>
<path d="M384,262 L434,262 L434,278 L384,281Z" fill="#5e2020"/>
<path d="M384,262 L434,262 L434,264 L384,264Z" fill="#7a3a3a"/>
<g fill="none" stroke-linecap="round" stroke-linejoin="round"><path d="M406,274 C409,282 414,288 420,293 C424,297 424,306 423,314 M411,284 L402,289 M416,289 C424,292 430,296 434,303 C436,308 435,313 434,317 M418,292 C414,297 412,302 411,307 M426,296 L432,293" stroke="#7fb2e6" stroke-width="3"/><path d="M440,279 C444,287 448,292 452,296 C456,300 457,306 456,312 M447,290 L439,294 M452,296 C460,298 466,302 468,310 C469,315 470,318 471,320 M458,299 C462,305 461,314 459,323 M462,300 C466,298 470,300 472,302" stroke="#7fb2e6" stroke-width="3"/><path d="M406,274 C409,282 414,288 420,293 C424,297 424,306 423,314 M411,284 L402,289 M416,289 C424,292 430,296 434,303 C436,308 435,313 434,317 M418,292 C414,297 412,302 411,307 M426,296 L432,293" stroke="#d8ecff" stroke-width="1.1"/><path d="M440,279 C444,287 448,292 452,296 C456,300 457,306 456,312 M447,290 L439,294 M452,296 C460,298 466,302 468,310 C469,315 470,318 471,320 M458,299 C462,305 461,314 459,323 M462,300 C466,298 470,300 472,302" stroke="#d8ecff" stroke-width="1.1"/></g>
<g fill="#b8dcf5"><circle cx="480" cy="300" r="1"/><circle cx="486" cy="306" r="1"/><circle cx="482" cy="314" r="1"/><circle cx="490" cy="318" r="1"/><circle cx="478" cy="326" r="1"/><circle cx="486" cy="332" r="1"/><circle cx="474" cy="340" r="1"/><circle cx="484" cy="344" r="1"/><circle cx="470" cy="330" r="1"/><circle cx="476" cy="312" r="1"/></g>
</g>
<ellipse cx="439.5" cy="305.5" rx="58.5" ry="65.5" fill="none" stroke="#2a3cff" stroke-width="3"/>
<polyline points="228,476 349,467 354,462 354,302 390,222 488,222 525,290 525,641" fill="none" stroke="#2a3cff" stroke-width="2.6" stroke-linejoin="round"/>
<line x1="228" y1="672" x2="532" y2="640" stroke="#2a3cff" stroke-width="2.6"/>
<polygon points="391.0,176.0 496.0,180.0 455.0,221.0 434.0,221.0" fill="#cdcdcd" />
<polygon points="391.0,176.0 426.0,180.0 434.0,221.0" fill="#a9a9a9" />
<polygon points="391.0,176.0 400.0,174.5 469.0,175.0 496.0,180.0 470.0,179.0 426.0,180.0" fill="#e2e2e2" />
<polygon points="400.0,174.5 469.0,175.0 476.0,177.0 405.0,176.5" fill="#8c8c8c" />
<polygon points="434.0,221.0 455.0,221.0 455.0,279.0 434.0,279.0" fill="url(#gStem)" />
<polygon points="434.0,221.0 440.0,221.0 440.0,279.0 434.0,279.0" fill="#a8a8a8" opacity="0.5"/>
<polygon points="160.0,440.5 229.0,467.5 229.0,683.0 227.0,683.0 208.0,672.0 160.0,652.0" fill="#2f2f2f" />
<polygon points="160.0,440.5 227.0,467.5 227.0,470.0 160.0,443.0" fill="#5a5a5a" />
<polygon points="193.0,478.0 224.0,484.0 224.0,670.0 193.0,671.0" fill="#383838" />
<polygon points="135.7,454.0 194.0,479.0 193.0,671.0 135.0,636.0" fill="url(#gDoor)" />
<polygon points="135.7,454.0 194.0,479.0 194.0,482.0 135.7,457.0" fill="#555" />
<rect x="207" y="501" width="9" height="25" rx="4" fill="#3e3e3e" stroke="#262626" stroke-width="0.9"/><rect x="208.5" y="502.5" width="6" height="3" rx="1.5" fill="#6a6a6a"/>
<rect x="207" y="622" width="9" height="25" rx="4" fill="#3e3e3e" stroke="#262626" stroke-width="0.9"/><rect x="208.5" y="623.5" width="6" height="3" rx="1.5" fill="#6a6a6a"/>
<line x1="193.8" y1="480" x2="193.3" y2="670" stroke="#5a5a5a" stroke-width="0.8"/>
<g fill="none" stroke="#1e1e1e" stroke-linecap="round"><path d="M141.5,476 L141.5,598 L191,624" stroke-width="1.3"/><path d="M168,487 C176,500 179,525 174,548 C170,566 171,588 176,606" stroke-width="1.8"/><path d="M161,503 C165,518 162,538 157,556 C153,572 155,588 161,603" stroke-width="1.8"/><path d="M176,545 C183,560 184,582 180,604" stroke-width="1.6"/><path d="M165,560 C168,575 166,590 168,606" stroke-width="1.4"/><path d="M144,603 C147,612 145,622 148,630" stroke-width="1.5"/><path d="M151,607 C155,617 153,627 156,636" stroke-width="1.5"/><path d="M172,618 C176,628 174,642 178,652" stroke-width="1.5"/><path d="M180,622 C184,634 182,648 186,658" stroke-width="1.5"/><path d="M187,626 C190,636 189,650 191,660" stroke-width="1.3"/></g>
<ellipse cx="161" cy="627" rx="7" ry="9" fill="#161616"/><ellipse cx="165" cy="627" rx="4.5" ry="7.5" fill="#2a2a2a"/><ellipse cx="165" cy="627" rx="2" ry="4" fill="#1a1a1a"/>
<path d="M134.7,539 C126,539 117,544 111,553 C104,564 99,578 95,590 C92,598 89,606 91,612 C93,617 101,617 106,612 C109,607 110,600 112,594 C115,583 119,572 124,564 C127,559 131,556 134.7,555 Z" fill="#252525"/>
<path d="M112.5,565 C117.5,571 113.5,579 109,586 C105,593 102,601 107,608" fill="none" stroke="#f4f4f4" stroke-width="2.3" stroke-linecap="round"/>
<path d="M110,577 C106,584 104,590 105,595" fill="none" stroke="#e8e8e8" stroke-width="0.9" stroke-linecap="round"/>
<path d="M296,666 L338,663 L338,700 L305,700 L305,688 C305,678 300,670 296,666 Z" fill="url(#gLeg)"/>
<rect x="327" y="685" width="3" height="7" rx="1.5" fill="#555"/>
<path d="M470,645 L492,643 L492,685 L470,685 Z" fill="url(#gLeg)"/>
<rect x="481" y="666" width="2.5" height="6" rx="1.2" fill="#555"/>
<path d="M353.7,603.4 L354.9,599.7 L355.9,595.8 L356.4,591.8 L356.2,587.7 L355.4,583.8 L354.1,580.1 L352.6,576.5 L351.1,573.2 L350.0,570.0 L349.3,566.8 L349.1,563.7 L349.5,560.4 L350.3,557.0 L351.4,553.5 L348.6,552.5 L347.1,556.0 L345.8,559.6 L345.0,563.3 L344.9,567.2 L345.3,571.0 L346.3,574.8 L347.4,578.5 L348.5,581.9 L349.3,585.2 L349.7,588.3 L349.5,591.2 L348.8,594.2 L347.7,597.3 L346.3,600.6Z" fill="url(#ag1)"/><path d="M346.0,557.0 L350.0,548.0 L354.0,557.0 L350.0,553.0 Z" fill="#86aee4" opacity="0.9"/>
<path d="M409.7,591.6 L410.9,588.4 L411.9,585.0 L412.4,581.3 L412.2,577.7 L411.3,574.2 L410.0,570.9 L408.5,567.9 L407.1,565.1 L406.0,562.4 L405.3,559.8 L405.1,557.2 L405.4,554.5 L406.3,551.6 L407.4,548.6 L404.6,547.4 L403.1,550.4 L401.9,553.5 L401.0,556.8 L400.9,560.2 L401.3,563.6 L402.3,566.9 L403.5,570.1 L404.6,573.1 L405.3,575.8 L405.7,578.3 L405.5,580.7 L404.8,583.0 L403.7,585.6 L402.3,588.4Z" fill="url(#ag2)"/><path d="M402.0,552.0 L406.0,543.0 L410.0,552.0 L406.0,548.0 Z" fill="#86aee4" opacity="0.9"/>
<path d="M486.8,587.3 L487.9,583.4 L488.9,579.3 L489.4,575.1 L489.2,570.9 L488.4,566.8 L487.1,562.8 L485.6,559.1 L484.2,555.5 L483.0,552.1 L482.3,548.7 L482.1,545.3 L482.5,541.8 L483.3,538.2 L484.4,534.5 L481.6,533.5 L480.1,537.2 L478.8,541.0 L478.0,545.0 L477.9,549.0 L478.3,553.1 L479.2,557.1 L480.4,560.9 L481.5,564.6 L482.3,568.1 L482.6,571.4 L482.5,574.6 L481.8,577.8 L480.7,581.1 L479.2,584.7Z" fill="url(#ag3)"/><path d="M479.0,538.0 L483.0,529.0 L487.0,538.0 L483.0,534.0 Z" fill="#86aee4" opacity="0.9"/>
<path d="M487.6,520.8 L488.8,518.0 L489.8,515.0 L490.4,511.7 L490.2,508.3 L489.3,505.2 L488.0,502.4 L486.5,499.8 L485.0,497.4 L483.9,495.1 L483.3,493.0 L483.1,490.9 L483.4,488.7 L484.2,486.3 L485.3,483.7 L482.7,482.3 L481.2,484.9 L479.9,487.6 L479.1,490.5 L478.9,493.5 L479.4,496.6 L480.4,499.5 L481.5,502.2 L482.6,504.8 L483.4,507.1 L483.7,509.1 L483.5,510.9 L482.9,512.8 L481.8,514.8 L480.4,517.2Z" fill="url(#ag4)"/><path d="M480.0,487.0 L484.0,478.0 L488.0,487.0 L484.0,483.0 Z" fill="#86aee4" opacity="0.9"/>
<path d="M486.5,461.8 L487.8,459.1 L488.8,456.1 L489.4,452.9 L489.2,449.6 L488.3,446.5 L487.0,443.8 L485.4,441.2 L484.0,438.9 L482.9,436.8 L482.3,434.7 L482.1,432.7 L482.4,430.6 L483.2,428.2 L484.3,425.7 L481.7,424.3 L480.2,426.8 L478.9,429.4 L478.1,432.3 L477.9,435.3 L478.4,438.2 L479.4,441.1 L480.6,443.8 L481.7,446.2 L482.4,448.5 L482.7,450.4 L482.5,452.1 L481.9,453.9 L480.8,455.9 L479.5,458.2Z" fill="url(#ag5)"/><path d="M479.0,429.0 L483.0,420.0 L487.0,429.0 L483.0,425.0 Z" fill="#86aee4" opacity="0.9"/>
<path d="M278.0,649.0 L281.4,647.1 L284.6,645.5 L287.6,644.4 L290.5,643.9 L293.5,643.7 L296.8,644.1 L300.3,644.7 L304.0,645.3 L307.9,645.7 L311.9,645.6 L315.8,644.9 L319.7,643.6 L323.4,641.8 L326.9,639.8 L325.1,636.2 L321.5,637.8 L318.0,639.1 L314.7,639.9 L311.6,640.2 L308.4,640.0 L305.1,639.3 L301.7,638.3 L298.1,637.3 L294.2,636.6 L290.1,636.3 L285.9,636.7 L281.7,637.8 L277.7,639.3 L274.0,641.0Z" fill="url(#ag6)"/><path d="M322.0,633.0 L331.0,638.0 L322.0,643.0 L326.0,638.0 Z" fill="#86aee4" opacity="0.9"/>
<path d="M385.8,636.1 L389.5,634.3 L393.0,632.7 L396.3,631.7 L399.6,631.1 L402.9,631.1 L406.5,631.5 L410.3,632.2 L414.3,632.9 L418.4,633.4 L422.7,633.4 L426.9,632.7 L431.0,631.4 L435.0,629.7 L438.8,627.8 L437.2,624.2 L433.3,625.7 L429.6,627.0 L426.0,627.7 L422.5,627.9 L419.0,627.6 L415.4,626.9 L411.7,625.8 L407.8,624.8 L403.6,623.9 L399.3,623.6 L394.8,623.9 L390.4,624.9 L386.2,626.3 L382.2,627.9Z" fill="url(#ag7)"/><path d="M434.0,621.0 L443.0,626.0 L434.0,631.0 L438.0,626.0 Z" fill="#86aee4" opacity="0.9"/>
<path d="M63.1,633.9 L69.3,632.7 L75.3,631.6 L81.2,630.9 L87.1,630.5 L93.1,630.5 L99.2,630.7 L105.4,631.2 L111.8,631.7 L118.3,632.0 L124.8,632.0 L131.4,631.6 L137.9,630.8 L144.3,629.7 L150.6,628.5 L149.4,621.5 L143.2,622.3 L137.0,622.9 L130.9,623.1 L124.9,623.0 L118.9,622.5 L112.8,621.8 L106.6,620.8 L100.3,619.8 L93.8,619.0 L87.2,618.5 L80.5,618.4 L73.9,618.7 L67.3,619.3 L60.9,620.1Z" fill="url(#ag8)"/><path d="M146.0,620.0 L155.0,625.0 L146.0,630.0 L150.0,625.0 Z" fill="#92b9ea" opacity="0.9"/>
<path d="M87.0,657.9 L93.7,656.7 L100.2,655.6 L106.7,654.9 L113.1,654.5 L119.6,654.5 L126.2,654.8 L132.9,655.2 L139.8,655.7 L146.8,656.0 L153.8,656.0 L160.9,655.6 L167.8,654.8 L174.7,653.7 L181.5,652.5 L180.5,645.5 L173.7,646.3 L167.0,646.9 L160.4,647.1 L153.9,647.0 L147.3,646.5 L140.8,645.7 L134.1,644.8 L127.2,643.8 L120.3,643.0 L113.2,642.5 L106.0,642.4 L98.9,642.7 L91.9,643.3 L85.0,644.1Z" fill="url(#ag9)"/><path d="M177.0,644.0 L186.0,649.0 L177.0,654.0 L181.0,649.0 Z" fill="#92b9ea" opacity="0.9"/>
</svg>
<svg id="ov" width="800" height="800" viewBox="0 0 800 800">
<line x1="16.90" y1="104.50" x2="159.75" y2="104.50" stroke="#6a6a6a" stroke-width="1.1"/>
<line x1="159.75" y1="104.50" x2="246.00" y2="200.00" stroke="#2a2a2a" stroke-width="1" stroke-linecap="round"/>
<line x1="21.00" y1="268.50" x2="172.00" y2="268.50" stroke="#6a6a6a" stroke-width="1.1"/>
<line x1="172.00" y1="268.50" x2="418.00" y2="337.00" stroke="#2a2a2a" stroke-width="1" stroke-linecap="round"/>
<line x1="17.00" y1="379.50" x2="167.50" y2="379.50" stroke="#6a6a6a" stroke-width="1.1"/>
<line x1="167.50" y1="379.50" x2="152.00" y2="472.00" stroke="#2a2a2a" stroke-width="1" stroke-linecap="round"/>
<line x1="584.25" y1="95.50" x2="383.40" y2="95.50" stroke="#6a6a6a" stroke-width="1.1"/>
<line x1="383.40" y1="95.50" x2="451.40" y2="192.00" stroke="#2a2a2a" stroke-width="1" stroke-linecap="round"/>
<line x1="767.50" y1="203.50" x2="647.50" y2="203.50" stroke="#6a6a6a" stroke-width="1.1"/>
<line x1="647.50" y1="203.50" x2="602.00" y2="296.00" stroke="#2a2a2a" stroke-width="1" stroke-linecap="round"/>
<line x1="753.00" y1="349.50" x2="647.50" y2="349.50" stroke="#6a6a6a" stroke-width="1.1"/>
<line x1="647.50" y1="349.50" x2="509.00" y2="432.00" stroke="#2a2a2a" stroke-width="1" stroke-linecap="round"/>
<line x1="761.00" y1="608.50" x2="642.50" y2="608.50" stroke="#6a6a6a" stroke-width="1.1"/>
<line x1="642.50" y1="608.50" x2="475.00" y2="505.00" stroke="#2a2a2a" stroke-width="1" stroke-linecap="round"/>
<line x1="196.00" y1="747.50" x2="326.25" y2="747.50" stroke="#6a6a6a" stroke-width="1.1"/>
<line x1="326.25" y1="747.50" x2="348.00" y2="639.00" stroke="#2a2a2a" stroke-width="1" stroke-linecap="round"/>
<line x1="660.50" y1="747.50" x2="457.00" y2="747.50" stroke="#6a6a6a" stroke-width="1.1"/>
<line x1="457.00" y1="747.50" x2="404.00" y2="594.00" stroke="#2a2a2a" stroke-width="1" stroke-linecap="round"/>
<circle cx="246.3" cy="200.6" r="5.3" fill="#fbf97f"/><circle cx="246.3" cy="200.6" r="2.5" fill="#e03a12"/>
<circle cx="418.2" cy="337.2" r="5.3" fill="#fbf97f"/><circle cx="418.2" cy="337.2" r="2.5" fill="#e03a12"/>
<circle cx="152.5" cy="472" r="5.3" fill="#fbf97f"/><circle cx="152.5" cy="472" r="2.5" fill="#e03a12"/>
<circle cx="451.8" cy="196.6" r="5.3" fill="#fbf97f"/><circle cx="451.8" cy="196.6" r="2.5" fill="#e03a12"/>
<circle cx="601.9" cy="296.6" r="5.3" fill="#fbf97f"/><circle cx="601.9" cy="296.6" r="2.5" fill="#e03a12"/>
<circle cx="509" cy="432" r="5.3" fill="#fbf97f"/><circle cx="509" cy="432" r="2.5" fill="#e03a12"/>
<circle cx="475" cy="505" r="5.3" fill="#fbf97f"/><circle cx="475" cy="505" r="2.5" fill="#e03a12"/>
<circle cx="348" cy="639" r="5.3" fill="#fbf97f"/><circle cx="348" cy="639" r="2.5" fill="#e03a12"/>
<circle cx="404" cy="594" r="5.3" fill="#fbf97f"/><circle cx="404" cy="594" r="2.5" fill="#e03a12"/>
<text x="19.7" y="100.4" textLength="131.3" lengthAdjust="spacingAndGlyphs" class="t">КОЖУХ-КОНВЕКТОР</text>
<text x="21" y="227" textLength="128" lengthAdjust="spacingAndGlyphs" class="t">ЦИЛИНДРИЧЕСКАЯ</text>
<text x="21" y="241" textLength="64" lengthAdjust="spacingAndGlyphs" class="t">КАМЕНКА</text>
<text x="21" y="284" textLength="139" lengthAdjust="spacingAndGlyphs" class="t">ТЕМПЕРАТУРА КАМНЕЙ</text>
<text x="21" y="296" textLength="58.5" lengthAdjust="spacingAndGlyphs" class="t">ДО 600º С</text>
<text x="21" y="374.5" textLength="130" lengthAdjust="spacingAndGlyphs" class="t">ТОПОЧНАЯ ДВЕРКА</text>
<text x="384.4" y="91.8" textLength="192" lengthAdjust="spacingAndGlyphs" class="t">ВОРОНКА ПАРОГЕНЕРАТОРА</text>
<text x="650" y="172" textLength="47.5" lengthAdjust="spacingAndGlyphs" class="t">БАК ИЗ</text>
<text x="650" y="186" textLength="109" lengthAdjust="spacingAndGlyphs" class="t">НЕРЖАВЕЮЩЕЙ</text>
<text x="650" y="200.5" textLength="108" lengthAdjust="spacingAndGlyphs" class="t">СТАЛИ С ВОДОЙ</text>
<text x="650" y="346" textLength="84" lengthAdjust="spacingAndGlyphs" class="t">ТОПКА ПЕЧИ</text>
<text x="650" y="561.75" textLength="107.5" lengthAdjust="spacingAndGlyphs" class="t">КАНАЛ ПОДАЧИ</text>
<text x="650" y="575.75" textLength="94.5" lengthAdjust="spacingAndGlyphs" class="t">ВОЗДУХА ДЛЯ</text>
<text x="650" y="590" textLength="88" lengthAdjust="spacingAndGlyphs" class="t">ВТОРИЧНОГО</text>
<text x="650" y="604" textLength="57" lengthAdjust="spacingAndGlyphs" class="t">ДОЖИГА</text>
<text x="201" y="742.5" textLength="111.5" lengthAdjust="spacingAndGlyphs" class="t">ЗОЛЬНЫЙ ЯЩИК</text>
<text x="462" y="729" textLength="185.5" lengthAdjust="spacingAndGlyphs" class="t">ЧУГУННАЯ КОЛОСНИКОВАЯ</text>
<text x="462" y="744" textLength="63.6" lengthAdjust="spacingAndGlyphs" class="t">РЕШЕТКА</text>
<text x="21.2" y="118.8" textLength="101" lengthAdjust="spacingAndGlyphs" class="s">из нержавеющей</text>
<text x="21.2" y="128.6" textLength="120" lengthAdjust="spacingAndGlyphs" class="s">стали марки AISI 430</text>
<text x="21" y="254" textLength="102.7" lengthAdjust="spacingAndGlyphs" class="s">из нержавеющей</text>
<text x="21" y="263" textLength="121.5" lengthAdjust="spacingAndGlyphs" class="s">стали марки AISI 430</text>
<text x="21" y="390" textLength="86" lengthAdjust="spacingAndGlyphs" class="s">особо прочная</text>
<text x="21" y="399.5" textLength="124" lengthAdjust="spacingAndGlyphs" class="s">котловая сталь 09Г2С</text>
<text x="650" y="361" textLength="101" lengthAdjust="spacingAndGlyphs" class="s">из нержавеющей</text>
<text x="650" y="371" textLength="122" lengthAdjust="spacingAndGlyphs" class="s">стали марки AISI 430</text>
</svg>
</body></html>
